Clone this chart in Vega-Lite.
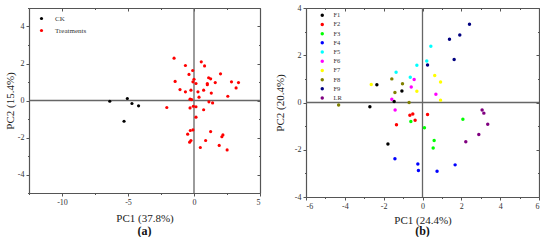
{
  "$schema": "https://vega.github.io/schema/vega-lite/v6.json",
  "padding": {"left": 4, "top": 4, "right": 0, "bottom": 0},
  "background": "white",
  "spacing": 13,
  "config": {
    "font": "Liberation Serif",
    "view": {"stroke": null},
    "axis": {
      "labelFont": "Liberation Serif", "titleFont": "Liberation Serif",
      "labelFontSize": 8, "titleFontSize": 11, "titleFontWeight": "normal",
      "labelColor": "#333", "titleColor": "#222",
      "domainColor": "#555", "tickColor": "#555", "domainWidth": 1.2,
      "grid": false, "labelPadding": 2, "titlePadding": 3
    },
    "legend": {"labelFont": "Liberation Serif", "labelColor": "#333"},
    "title": {"font": "Liberation Serif"}
  },
  "resolve": {"scale": {"color": "independent"}, "legend": {"color": "independent"}},
  "hconcat": [
    {
      "width": 231, "height": 185,
      "title": {"text": "(a)", "orient": "bottom", "anchor": "middle", "fontSize": 12, "fontWeight": "bold", "color": "#111", "offset": 3},
      "data": {"values": [
        {"g": "CK", "x": -6.38, "y": -0.04},
        {"g": "CK", "x": -5.05, "y": 0.11},
        {"g": "CK", "x": -4.70, "y": -0.16},
        {"g": "CK", "x": -4.20, "y": -0.29},
        {"g": "CK", "x": -5.30, "y": -1.12},
        {"g": "Treatments", "x": -1.51, "y": 2.29},
        {"g": "Treatments", "x": -0.65, "y": 1.89},
        {"g": "Treatments", "x": 0.55, "y": 2.09},
        {"g": "Treatments", "x": 0.80, "y": 1.87},
        {"g": "Treatments", "x": -0.10, "y": 1.62},
        {"g": "Treatments", "x": -0.38, "y": 1.41},
        {"g": "Treatments", "x": 2.01, "y": 1.44},
        {"g": "Treatments", "x": 0.00, "y": 1.15},
        {"g": "Treatments", "x": -1.43, "y": 1.03},
        {"g": "Treatments", "x": -0.08, "y": 1.01},
        {"g": "Treatments", "x": 0.15, "y": 0.92},
        {"g": "Treatments", "x": 1.11, "y": 1.23},
        {"g": "Treatments", "x": 1.26, "y": 1.17},
        {"g": "Treatments", "x": 1.01, "y": 0.92},
        {"g": "Treatments", "x": 1.01, "y": 0.85},
        {"g": "Treatments", "x": 1.61, "y": 0.97},
        {"g": "Treatments", "x": 2.84, "y": 1.01},
        {"g": "Treatments", "x": 3.37, "y": 0.97},
        {"g": "Treatments", "x": 3.19, "y": 0.68},
        {"g": "Treatments", "x": -1.06, "y": 0.59},
        {"g": "Treatments", "x": -0.65, "y": 0.47},
        {"g": "Treatments", "x": -0.23, "y": 0.56},
        {"g": "Treatments", "x": 0.73, "y": 0.56},
        {"g": "Treatments", "x": 0.30, "y": 0.47},
        {"g": "Treatments", "x": 1.31, "y": 0.40},
        {"g": "Treatments", "x": 0.38, "y": 0.18},
        {"g": "Treatments", "x": 2.56, "y": 0.23},
        {"g": "Treatments", "x": -0.30, "y": 0.07},
        {"g": "Treatments", "x": -0.18, "y": 0.05},
        {"g": "Treatments", "x": 1.13, "y": -0.07},
        {"g": "Treatments", "x": 1.41, "y": -0.13},
        {"g": "Treatments", "x": -2.06, "y": -0.38},
        {"g": "Treatments", "x": -0.30, "y": -0.40},
        {"g": "Treatments", "x": -0.05, "y": -0.31},
        {"g": "Treatments", "x": 0.15, "y": -0.34},
        {"g": "Treatments", "x": 0.73, "y": -0.50},
        {"g": "Treatments", "x": 0.15, "y": -0.90},
        {"g": "Treatments", "x": -0.08, "y": -1.59},
        {"g": "Treatments", "x": -0.28, "y": -1.62},
        {"g": "Treatments", "x": 1.26, "y": -1.68},
        {"g": "Treatments", "x": -0.48, "y": -1.82},
        {"g": "Treatments", "x": 2.19, "y": -1.86},
        {"g": "Treatments", "x": 2.11, "y": -1.96},
        {"g": "Treatments", "x": -0.23, "y": -2.16},
        {"g": "Treatments", "x": 0.88, "y": -2.16},
        {"g": "Treatments", "x": -0.33, "y": -2.25},
        {"g": "Treatments", "x": 1.91, "y": -2.43},
        {"g": "Treatments", "x": 0.48, "y": -2.54},
        {"g": "Treatments", "x": 2.51, "y": -2.67}
      ]},
      "layer": [
        {
          "data": {"values": [{}]},
          "mark": {"type": "rule", "color": "#666", "strokeWidth": 1.3},
          "encoding": {"x": {"datum": 0, "type": "quantitative", "scale": {"domain": [-12.5, 5], "nice": false, "zero": false}, "axis": null}}
        },
        {
          "data": {"values": [{}]},
          "mark": {"type": "rule", "color": "#666", "strokeWidth": 1.3},
          "encoding": {"y": {"datum": 0, "type": "quantitative", "scale": {"domain": [-5, 5], "nice": false, "zero": false}, "axis": null}}
        },
        {
          "mark": {"type": "point", "filled": true, "opacity": 1, "size": 10},
          "encoding": {
            "x": {"field": "x", "type": "quantitative", "scale": {"domain": [-12.5, 5], "nice": false, "zero": false},
              "axis": {"orient": "bottom", "title": "PC1 (37.8%)", "values": [-12.5, -10, -7.5, -5, -2.5, 0, 2.5, 5],
                "labelExpr": "datum.value % 5 === 0 ? '' + datum.value : ''",
                "tickSize": {"condition": {"test": "datum.value % 5 === 0", "value": 3}, "value": 1.5},
                "titlePadding": 6}},
            "y": {"field": "y", "type": "quantitative", "scale": {"domain": [-5, 5], "nice": false, "zero": false},
              "axis": {"orient": "left", "title": "PC2 (15.4%)", "values": [-5, -4, -3, -2, -1, 0, 1, 2, 3, 4, 5],
                "labelExpr": "datum.value % 2 === 0 ? '' + datum.value : ''",
                "tickSize": {"condition": {"test": "datum.value % 2 === 0", "value": 3}, "value": 1.5},
                "titlePadding": 2}},
            "color": {"field": "g", "type": "nominal",
              "scale": {"domain": ["CK", "Treatments"], "range": ["#000000", "#ff0000"]},
              "legend": {"title": null, "orient": "none", "legendX": 9, "legendY": 7, "symbolType": "circle", "symbolSize": 10,
                "labelFontSize": 7, "rowPadding": 4, "labelOffset": 10}}
          }
        },
        {
          "mark": {"type": "point", "opacity": 0},
          "encoding": {
            "x": {"field": "x", "type": "quantitative", "scale": {"domain": [-12.5, 5], "nice": false, "zero": false},
              "axis": {"orient": "top", "title": null, "labels": false, "values": [-12.5, -10, -7.5, -5, -2.5, 0, 2.5, 5],
                "tickSize": {"condition": {"test": "datum.value % 5 === 0", "value": -3}, "value": -1.5}}},
            "y": {"field": "y", "type": "quantitative", "scale": {"domain": [-5, 5], "nice": false, "zero": false},
              "axis": {"orient": "right", "title": null, "labels": false, "values": [-5, -4, -3, -2, -1, 0, 1, 2, 3, 4, 5],
                "tickSize": {"condition": {"test": "datum.value % 2 === 0", "value": -3}, "value": -1.5}}}
          }
        }
      ],
      "resolve": {"axis": {"x": "independent", "y": "independent"}}
    },
    {
      "width": 233, "height": 189,
      "title": {"text": "(b)", "orient": "bottom", "anchor": "middle", "fontSize": 12, "fontWeight": "bold", "color": "#111", "offset": 1},
      "data": {"values": [
        {"g": "F1", "x": -2.35, "y": 0.75},
        {"g": "F1", "x": -1.06, "y": 0.49},
        {"g": "F1", "x": -1.46, "y": 0.04},
        {"g": "F1", "x": -2.71, "y": -0.18},
        {"g": "F1", "x": -1.78, "y": -1.76},
        {"g": "F2", "x": -0.65, "y": -0.54},
        {"g": "F2", "x": -0.50, "y": -0.49},
        {"g": "F2", "x": -0.38, "y": -0.75},
        {"g": "F2", "x": 0.26, "y": -0.51},
        {"g": "F2", "x": -1.34, "y": -0.94},
        {"g": "F3", "x": -0.60, "y": -0.80},
        {"g": "F3", "x": 0.10, "y": -1.07},
        {"g": "F3", "x": 2.08, "y": -0.71},
        {"g": "F3", "x": 0.60, "y": -1.61},
        {"g": "F3", "x": 0.55, "y": -1.93},
        {"g": "F4", "x": -1.42, "y": -2.38},
        {"g": "F4", "x": -0.24, "y": -2.60},
        {"g": "F4", "x": -0.21, "y": -2.88},
        {"g": "F4", "x": 0.75, "y": -2.91},
        {"g": "F4", "x": 1.68, "y": -2.64},
        {"g": "F5", "x": 0.43, "y": 2.38},
        {"g": "F5", "x": 0.22, "y": 1.76},
        {"g": "F5", "x": -0.29, "y": 1.58},
        {"g": "F5", "x": -1.36, "y": 1.28},
        {"g": "F5", "x": -0.63, "y": 1.07},
        {"g": "F6", "x": -0.43, "y": 0.97},
        {"g": "F6", "x": -0.58, "y": 0.66},
        {"g": "F6", "x": -1.58, "y": 0.14},
        {"g": "F6", "x": -1.41, "y": -0.32},
        {"g": "F6", "x": 0.69, "y": 0.35},
        {"g": "F7", "x": -2.64, "y": 0.76},
        {"g": "F7", "x": 0.63, "y": 1.14},
        {"g": "F7", "x": 0.93, "y": 0.87},
        {"g": "F7", "x": -0.29, "y": 0.48},
        {"g": "F7", "x": 0.93, "y": 0.10},
        {"g": "F8", "x": -1.58, "y": 1.00},
        {"g": "F8", "x": -1.03, "y": 0.79},
        {"g": "F8", "x": -1.42, "y": 0.42},
        {"g": "F8", "x": -0.69, "y": 0.00},
        {"g": "F8", "x": -4.32, "y": -0.11},
        {"g": "F9", "x": 2.42, "y": 3.31},
        {"g": "F9", "x": 1.39, "y": 2.68},
        {"g": "F9", "x": 1.92, "y": 2.86},
        {"g": "F9", "x": 1.63, "y": 1.82},
        {"g": "F9", "x": 0.26, "y": 1.59},
        {"g": "LR", "x": 3.07, "y": -0.32},
        {"g": "LR", "x": 3.16, "y": -0.45},
        {"g": "LR", "x": 3.36, "y": -0.92},
        {"g": "LR", "x": 2.90, "y": -1.35},
        {"g": "LR", "x": 2.23, "y": -1.66}
      ]},
      "layer": [
        {
          "data": {"values": [{}]},
          "mark": {"type": "rule", "color": "#666", "strokeWidth": 1.3},
          "encoding": {"x": {"datum": 0, "type": "quantitative", "scale": {"domain": [-6, 6], "nice": false, "zero": false}, "axis": null}}
        },
        {
          "data": {"values": [{}]},
          "mark": {"type": "rule", "color": "#666", "strokeWidth": 1.3},
          "encoding": {"y": {"datum": 0, "type": "quantitative", "scale": {"domain": [-4, 4], "nice": false, "zero": false}, "axis": null}}
        },
        {
          "mark": {"type": "point", "filled": true, "opacity": 1, "size": 12},
          "encoding": {
            "x": {"field": "x", "type": "quantitative", "scale": {"domain": [-6, 6], "nice": false, "zero": false},
              "axis": {"orient": "bottom", "title": "PC1 (24.4%)", "values": [-6, -5, -4, -3, -2, -1, 0, 1, 2, 3, 4, 5, 6],
                "labelExpr": "datum.value % 2 === 0 ? '' + datum.value : ''",
                "tickSize": {"condition": {"test": "datum.value % 2 === 0", "value": 3}, "value": 1.5},
                "titlePadding": 4}},
            "y": {"field": "y", "type": "quantitative", "scale": {"domain": [-4, 4], "nice": false, "zero": false},
              "axis": {"orient": "left", "title": "PC2 (20.4%)", "values": [-4, -3, -2, -1, 0, 1, 2, 3, 4],
                "labelExpr": "datum.value % 2 === 0 ? '' + datum.value : ''",
                "tickSize": {"condition": {"test": "datum.value % 2 === 0", "value": 3}, "value": 1.5},
                "titlePadding": 9}},
            "color": {"field": "g", "type": "nominal",
              "scale": {"domain": ["F1", "F2", "F3", "F4", "F5", "F6", "F7", "F8", "F9", "LR"],
                "range": ["#000000", "#ff0000", "#00ff00", "#0000ff", "#00ffff", "#ff00ff", "#ffff00", "#808000", "#000080", "#800080"]},
              "legend": {"title": null, "orient": "none", "legendX": 13, "legendY": 4, "symbolType": "circle", "symbolSize": 12,
                "labelFontSize": 6.5, "rowPadding": 2.2, "labelOffset": 8}}
          }
        },
        {
          "mark": {"type": "point", "opacity": 0},
          "encoding": {
            "x": {"field": "x", "type": "quantitative", "scale": {"domain": [-6, 6], "nice": false, "zero": false},
              "axis": {"orient": "top", "title": null, "labels": false, "values": [-6, -5, -4, -3, -2, -1, 0, 1, 2, 3, 4, 5, 6],
                "tickSize": {"condition": {"test": "datum.value % 2 === 0", "value": -3}, "value": -1.5}}},
            "y": {"field": "y", "type": "quantitative", "scale": {"domain": [-4, 4], "nice": false, "zero": false},
              "axis": {"orient": "right", "title": null, "labels": false, "values": [-4, -3, -2, -1, 0, 1, 2, 3, 4],
                "tickSize": {"condition": {"test": "datum.value % 2 === 0", "value": -3}, "value": -1.5}}}
          }
        }
      ],
      "resolve": {"axis": {"x": "independent", "y": "independent"}}
    }
  ]
}
